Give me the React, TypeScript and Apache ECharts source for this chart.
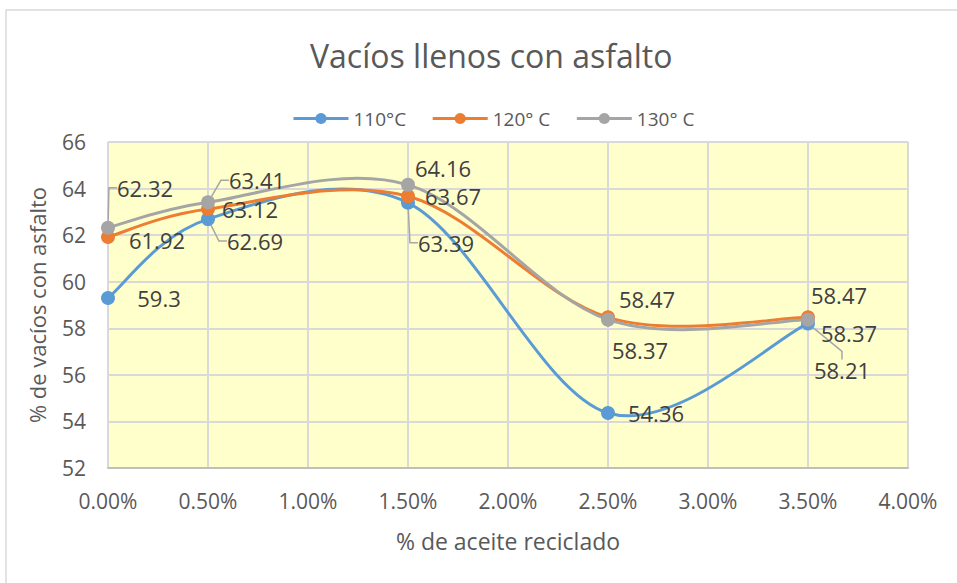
import React, { useEffect, useRef } from "react";
import * as echarts from "echarts";

const xValues = [0, 0.5, 1.5, 2.5, 3.5];
const series110 = [59.3, 62.69, 63.39, 54.36, 58.21];
const series120 = [61.92, 63.12, 63.67, 58.47, 58.47];
const series130 = [62.32, 63.41, 64.16, 58.37, 58.37];
const seriesNames = ["110°C", "120° C", "130° C"];
const colors = ["#5B9BD5", "#ED7D31", "#A5A5A5"];

// label offsets (px) relative to the marker, per series / point
const labelOffsets = [
  [[51, 0], [47, 22], [38, 40], [48, 0], [34, 47]],
  [[49, 3], [42, 0], [45, 0], [39, -18], [31, -22]],
  [[37, -40], [49, -22], [35, -17], [32, 30], [41, 13]],
];
const leaderLines = [
  [false, true, true, false, true],
  [false, false, false, false, false],
  [true, true, false, false, false],
];

export default function App() {
  const ref = useRef<HTMLDivElement>(null);
  useEffect(() => {
    const chart = echarts.init(ref.current!, undefined, { renderer: "svg" });
    const font = "Open Sans";
    const all = [series110, series120, series130];

    const markerSeries = (i: number) => ({
      name: seriesNames[i],
      type: "line",
      symbol: "circle",
      symbolSize: 14,
      lineStyle: { width: 3, color: colors[i], opacity: 0 },
      itemStyle: { color: colors[i] },
      z: 5 + i,
      data: all[i].map((v, j) => ({
        value: [xValues[j], v],
        labelLine: { show: leaderLines[i][j] },
      })),
      label: {
        show: true,
        position: "inside",
        formatter: (p: any) => String(p.value[1]),
        color: "#404040",
        fontSize: 22,
        fontFamily: font,
      },
      labelLine: {
        show: false,
        lineStyle: { color: "#A6A6A6", width: 1.5 },
        length2: 8,
      },
      labelLayout: (p: any) => {
        const o = labelOffsets[i][p.dataIndex];
        return { dx: o[0], dy: o[1] };
      },
    });

    // smooth curve (Catmull-Rom style Bezier, like the spreadsheet's smoothed line)
    const curveSeries = (i: number) => ({
      name: seriesNames[i],
      type: "custom",
      coordinateSystem: "cartesian2d",
      silent: true,
      z: 2,
      data: all[i].slice(0, -1).map((v, j) => [xValues[j], v]),
      renderItem: (params: any, api: any) => {
        const j = params.dataIndex;
        const pts = all[i].map((v, k) => api.coord([xValues[k], v]));
        const n = pts.length;
        const p0 = pts[Math.max(j - 1, 0)];
        const p1 = pts[j];
        const p2 = pts[j + 1];
        const p3 = pts[Math.min(j + 2, n - 1)];
        const t = 1 / 6;
        return {
          type: "bezierCurve",
          shape: {
            x1: p1[0],
            y1: p1[1],
            x2: p2[0],
            y2: p2[1],
            cpx1: p1[0] + (p2[0] - p0[0]) * t,
            cpy1: p1[1] + (p2[1] - p0[1]) * t,
            cpx2: p2[0] - (p3[0] - p1[0]) * t,
            cpy2: p2[1] - (p3[1] - p1[1]) * t,
          },
          style: { stroke: colors[i], lineWidth: 3, fill: null, lineCap: "round" },
        };
      },
    });

    chart.setOption({
      animation: false,
      backgroundColor: "#FFFFFF",
      title: {
        text: "Vacíos llenos con asfalto",
        left: 305,
        top: 34,
        textStyle: { fontFamily: font, fontSize: 32, fontWeight: "normal", color: "#595959" },
      },
      legend: {
        top: 104,
        left: 287,
        itemWidth: 55,
        itemHeight: 14,
        itemGap: 25,
        lineStyle: { opacity: 1, width: 3 },
        textStyle: { fontFamily: font, fontSize: 19, color: "#595959" },
        data: seriesNames,
      },
      graphic: [
        {
          type: "rect",
          shape: { x: 6, y: 10, width: 1000, height: 1000 },
          style: { fill: "none", stroke: "#D9D9D9", lineWidth: 1.5 },
          silent: true,
        },
      ],
      grid: {
        left: 108,
        right: 49,
        top: 142,
        bottom: 115,
        show: true,
        backgroundColor: "#FFFFCC",
        borderWidth: 0,
      },
      xAxis: {
        type: "value",
        min: 0,
        max: 4,
        interval: 0.5,
        name: "% de aceite reciclado",
        nameLocation: "middle",
        nameGap: 61,
        nameTextStyle: { fontFamily: font, fontSize: 23, color: "#595959" },
        axisLine: { show: true, lineStyle: { color: "#BFBFBF", width: 2 } },
        axisTick: { show: false },
        axisLabel: {
          fontFamily: font,
          fontSize: 21,
          color: "#595959",
          margin: 22,
          formatter: (v: number) => v.toFixed(2) + "%",
        },
        splitLine: { show: true, lineStyle: { color: "#D9D9D9", width: 2 } },
      },
      yAxis: {
        type: "value",
        min: 52,
        max: 66,
        interval: 2,
        name: "% de vacíos con asfalto",
        nameLocation: "middle",
        nameGap: 60,
        nameTextStyle: { fontFamily: font, fontSize: 22, color: "#595959" },
        axisLine: { show: false },
        axisTick: { show: false },
        axisLabel: { fontFamily: font, fontSize: 21, color: "#595959", margin: 22 },
        splitLine: { show: true, lineStyle: { color: "#D9D9D9", width: 2 } },
      },
      series: [
        markerSeries(0),
        markerSeries(1),
        markerSeries(2),
        curveSeries(0),
        curveSeries(1),
        curveSeries(2),
      ],
    });
    return () => chart.dispose();
  }, []);
  return (
    <div
      ref={ref}
      style={{ position: "absolute", left: 0, top: 0, width: 957, height: 583 }}
    />
  );
}
